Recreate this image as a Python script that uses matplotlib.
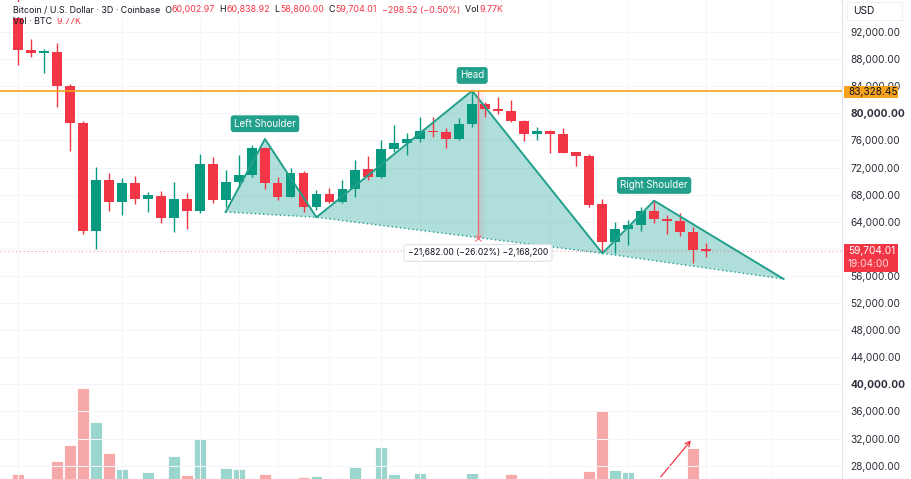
import matplotlib
matplotlib.use("Agg")
import matplotlib.pyplot as plt
from matplotlib.patches import Rectangle

plt.rcParams["font.family"] = ["Inter", "DejaVu Sans"]

# --- data (3D candles, BTC/USD Coinbase) ---
opens = [96500, 89343, 88974, 89004, 83986, 78524, 62671, 70155, 66908, 69663,
         67351, 67838, 64502, 67351, 65624, 72517, 67203, 69816, 70894, 74835,
         69757, 67690, 71233, 66214, 68089, 66864, 68783, 71734, 70553, 74731,
         75567, 76206, 77432, 77289, 76206, 78420, 81373, 80591, 80385, 78908,
         76900, 77432, 76900, 74234, 73698, 66568, 60960, 62922, 63513, 65624,
         64399, 64148, 62524, 60003]
highs = [97200, 90922, 89446, 90332, 84325, 78908, 72118, 71233, 70402, 70790,
         68438, 68531, 69905, 68192, 73993, 73594, 71631, 73846, 75321, 75075,
         70643, 71882, 71468, 68679, 68930, 70155, 73107, 73697, 76059, 78273,
         77092, 79498, 79455, 77786, 79306, 83328, 81712, 82362, 81963, 79011,
         78022, 77480, 77875, 74288, 73993, 67306, 64000, 64251, 66214, 67099,
         64989, 65328, 63262, 60839]
lows = [87130, 88354, 85993, 80974, 74480, 62184, 59926, 65624, 64989, 66568,
        65476, 63765, 62525, 62878, 65239, 66804, 66214, 69166, 70600, 68783,
        67203, 67646, 65476, 65727, 66716, 66760, 67690, 70155, 70450, 74288,
        73845, 75764, 76502, 74834, 76059, 78022, 79410, 79853, 78760, 75911,
        76059, 74185, 74140, 72266, 66214, 59572, 59336, 60561, 62672, 63853,
        62141, 61889, 57949, 58800]
closes = [89343, 88974, 89092, 84030, 78524, 62671, 70155, 66908, 69663, 67351,
          67897, 64502, 67395, 65624, 72517, 67203, 69816, 70894, 74835, 69757,
          67690, 71233, 66214, 68089, 66864, 68783, 71631, 70553, 74731, 75567,
          76206, 77387, 77195, 76206, 78420, 81329, 80591, 80340, 78908, 76900,
          77432, 76900, 74185, 73698, 66465, 60960, 62922, 63513, 65579, 64355,
          64104, 62524, 59823, 59704]
volumes_k = [13.2, 9.5, 8.0, 19.5, 27.5, 56.2, 39.2, 23.5, 15.5, 10.0,
             13.9, 9.0, 22.2, 12.5, 30.5, 10.9, 15.9, 15.7, 9.8, 13.0,
             8.5, 10.9, 11.4, 12.0, 8.0, 9.0, 16.4, 9.5, 26.7, 12.9,
             9.5, 13.5, 8.0, 9.0, 10.0, 13.5, 10.0, 8.0, 13.0, 10.0,
             7.5, 9.0, 10.5, 8.5, 14.5, 44.7, 15.2, 14.2, 10.0, 10.5,
             8.0, 9.5, 25.9, 9.77]

# head & shoulders drawing: start, left shoulder, trough, head, trough, right shoulder, end
hs_x = [16.0, 19.03, 23.0, 35.0, 45.03, 49.02, 59.0]
hs_y = [65432, 76207, 64650, 83328.45, 59336, 67100, 55543]
hs_labels = {1: "Left Shoulder", 3: "Head", 5: "Right Shoulder"}

head_level = 83328.45
last_price = 59704.01
measure_drop = 21682.00
price_ticks = list(range(28000, 92001, 4000))

GREEN = "#089981"
RED = "#f23645"
TEAL = "#22a08b"
TEXT = "#131722"

fig = plt.figure(figsize=(9.12, 4.79), dpi=100)
fig.patch.set_facecolor("white")
ax = fig.add_axes([0, 0, 842 / 912, 1])
axv = ax.twinx()
ax.set_zorder(axv.get_zorder() + 1)
ax.patch.set_visible(False)

xs = list(range(len(opens)))

# volume
vol_colors = ["#9ad6ce" if c >= o else "#f7a8a8" for o, c in zip(opens, closes)]
axv.bar(xs, volumes_k, width=0.92, color=vol_colors, edgecolor="white", linewidth=0.6)
axv.set_ylim(10.5, 250)
axv.set_yticks([])
axv.annotate("", xy=(52.0, 30.9), xytext=(49.4, 10.5),
             arrowprops=dict(arrowstyle="->", color=RED, lw=0.9, mutation_scale=9))

# grid
for t in price_ticks:
    ax.axhline(t, color="#f2f4f9", lw=0.8, zorder=0)
for gx in [0, 8, 14, 17, 20, 24, 28, 31, 36, 41, 47, 53, 58]:
    ax.axvline(gx, color="#f6f7fa", lw=0.8, zorder=0)

# pattern fill
poly_x = hs_x + [hs_x[4], hs_x[2]]
poly_y = hs_y + [hs_y[4], hs_y[2]]
ax.fill(poly_x, poly_y, color="#26a69a", alpha=0.36, lw=0, zorder=1)

# candles
for i, (o, h, l, c) in enumerate(zip(opens, highs, lows, closes)):
    col = GREEN if c >= o else RED
    ax.vlines(i, l, h, color=col, lw=1.0, zorder=2)
    ax.bar(i, max(abs(c - o), 180), bottom=min(o, c), width=0.76, color=col, zorder=3)

ax.plot(hs_x, hs_y, color=TEAL, lw=1.4, zorder=4)
neck = [0, 2, 4, 6]
ax.plot([hs_x[k] for k in neck], [hs_y[k] for k in neck], color=TEAL, lw=1.0,
        ls=(0, (1, 2)), zorder=4)
for k, lab in hs_labels.items():
    ax.annotate(lab, (hs_x[k], hs_y[k]), xytext=(0, 11), textcoords="offset points",
                ha="center", va="center", fontsize=7, color="white", zorder=6,
                bbox=dict(boxstyle="round,pad=0.35,rounding_size=0.3", fc=TEAL, ec="none"))

# horizontal level lines
ax.axhline(head_level, color="#f7a21b", lw=1.2, zorder=4)
ax.axhline(last_price, color=RED, lw=0.7, ls=(0, (1, 3)), alpha=0.6, zorder=1)

# measure tool
mx = 35.45
ax.add_patch(Rectangle((mx, head_level - measure_drop), 0.45, measure_drop,
                       fc="#f23645", alpha=0.08, lw=0, zorder=2))
ax.vlines(mx, head_level - measure_drop, head_level, color="#f06b74", lw=1.0, zorder=4)
ax.plot([mx], [head_level - measure_drop], marker="x", ms=4, color="#f06b74", mew=0.8, zorder=4)
ax.annotate("\u221221,682.00 (\u221226.02%) \u22122,168,200", (mx, head_level - measure_drop),
            xytext=(0, -11), textcoords="offset points", ha="center", va="center",
            fontsize=6.2, color=TEXT, zorder=6,
            bbox=dict(boxstyle="round,pad=0.45,rounding_size=0.3", fc="white", ec="#e0e3eb", lw=0.8))

ax.set_xlim(-1.39, 63.5)
ax.set_ylim(26023, 96723)
ax.yaxis.tick_right()
ax.set_yticks(price_ticks)
# 60,000 sits under the last-price tag in the reference
ax.set_yticklabels(["" if t == 60000 else f"{t:,.2f}" for t in price_ticks])
for lbl, t in zip(ax.get_yticklabels(), price_ticks):
    if t in (40000, 80000):
        lbl.set_fontweight("bold")
ax.tick_params(axis="y", length=0, pad=6, labelsize=7.3, labelcolor="#2a2e39")
ax.set_xticks([])
for side in ("top", "left", "bottom"):
    ax.spines[side].set_visible(False)
    axv.spines[side].set_visible(False)
ax.spines["right"].set_color("#e0e3eb")
axv.spines["right"].set_visible(False)

# price tags on the axis
fig.patches.append(Rectangle((844 / 912, 1 - 98 / 479), 54 / 912, 12 / 479,
                             transform=fig.transFigure, fc="#f7a21b", ec="none", zorder=5))
fig.text(848 / 912, 1 - 92 / 479, "83,328.45", fontsize=7.3, color=TEXT, va="center", ha="left", zorder=6)
fig.patches.append(Rectangle((844 / 912, 1 - 272 / 479), 54 / 912, 28 / 479,
                             transform=fig.transFigure, fc=RED, ec="none", zorder=5))
fig.text(848 / 912, 1 - 251 / 479, "59,704.01", fontsize=7.3, color="white", va="center", ha="left", zorder=6)
fig.text(848 / 912, 1 - 264 / 479, "19:04:00", fontsize=7.3, color="#ffd6da", va="center", ha="left", zorder=6)
fig.patches.append(Rectangle((847 / 912, 1 - 20 / 479), 55 / 912, 18 / 479,
                             transform=fig.transFigure, fc="white", ec="#eef0f4", lw=0.8, zorder=5))
fig.text(853 / 912, 1 - 11 / 479, "USD", fontsize=7.3, color=TEXT, va="center", ha="left", zorder=6)

# legend / title
ax.add_patch(Rectangle((10 / 912, 1 - 18 / 479), 476 / 912, 16 / 479, transform=fig.transFigure,
                       fc="white", ec="none", zorder=5))
FS = 6.4
parts = [("Bitcoin / U.S. Dollar \u00b7 3D \u00b7 Coinbase  O", TEXT), ("60,002.97", RED),
         ("  H", TEXT), ("60,838.92", RED), ("  L", TEXT), ("58,800.00", RED),
         ("  C", TEXT), ("59,704.01", RED), ("  \u2212298.52 (\u22120.50%)", RED),
         ("  Vol", TEXT), ("9.77K", RED)]
prev = None
for txt, col in parts:
    if prev is None:
        prev = fig.text(13 / 912, 1 - 10 / 479, txt, fontsize=FS, color=col, va="center", ha="left", zorder=6)
    else:
        prev = ax.annotate(txt, xy=(1, 0), xycoords=prev, va="bottom", ha="left",
                           fontsize=FS, color=col, zorder=6, annotation_clip=False)
t2 = fig.text(13 / 912, 1 - 22 / 479, "Vol \u00b7 BTC", fontsize=FS, color=TEXT, va="center", ha="left")
ax.annotate("  9.77K", xy=(1, 0), xycoords=t2, va="bottom", ha="left", fontsize=FS, color=RED,
            annotation_clip=False)

fig.savefig("out.png", dpi=100)
